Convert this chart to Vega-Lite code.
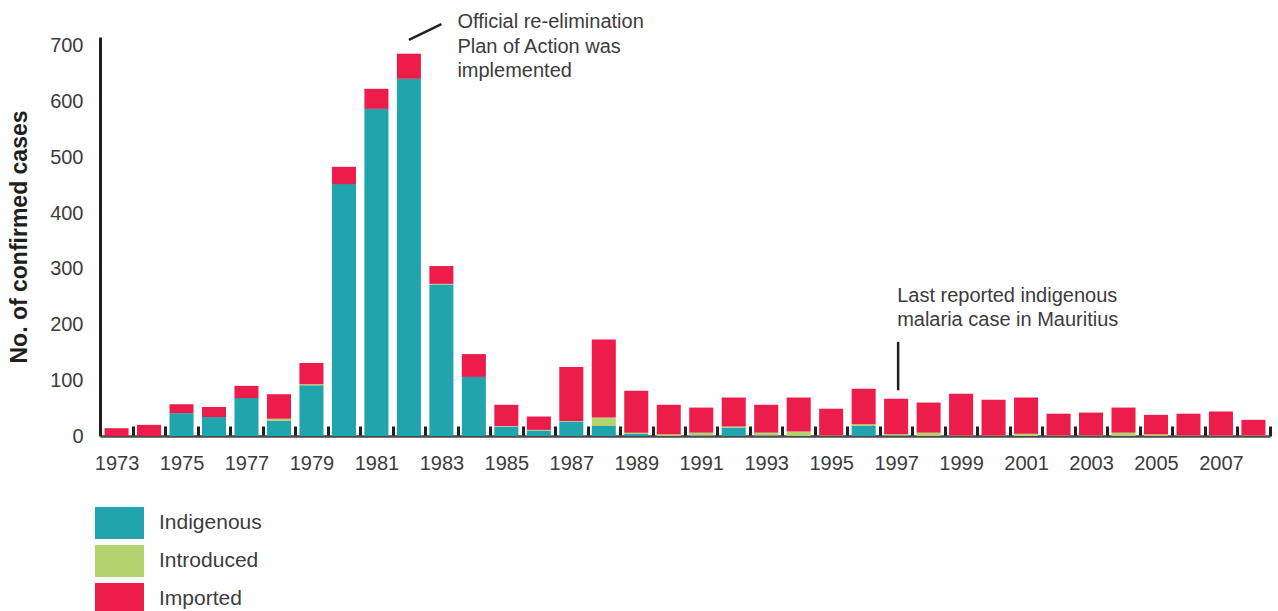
{
  "$schema": "https://vega.github.io/schema/vega-lite/v6.json",
  "width": 1170,
  "height": 399,
  "autosize": {"type": "none"},
  "padding": {"left": 100, "top": 37, "right": 8, "bottom": 175},
  "background": "white",
  "config": {"view": {"stroke": null}, "font": "Liberation Sans"},
  "datasets": {
    "cases": [
      {"year": 1973, "Indigenous": 0, "Introduced": 0, "Imported": 14},
      {"year": 1974, "Indigenous": 0, "Introduced": 0, "Imported": 20},
      {"year": 1975, "Indigenous": 41, "Introduced": 0, "Imported": 16},
      {"year": 1976, "Indigenous": 34, "Introduced": 0, "Imported": 18},
      {"year": 1977, "Indigenous": 68, "Introduced": 0, "Imported": 22},
      {"year": 1978, "Indigenous": 27, "Introduced": 4, "Imported": 44},
      {"year": 1979, "Indigenous": 91, "Introduced": 2, "Imported": 38},
      {"year": 1980, "Indigenous": 452, "Introduced": 0, "Imported": 31},
      {"year": 1981, "Indigenous": 587, "Introduced": 0, "Imported": 36},
      {"year": 1982, "Indigenous": 641, "Introduced": 0, "Imported": 45},
      {"year": 1983, "Indigenous": 272, "Introduced": 1, "Imported": 32},
      {"year": 1984, "Indigenous": 106, "Introduced": 0, "Imported": 41},
      {"year": 1985, "Indigenous": 17, "Introduced": 1, "Imported": 38},
      {"year": 1986, "Indigenous": 10, "Introduced": 1, "Imported": 24},
      {"year": 1987, "Indigenous": 26, "Introduced": 1, "Imported": 97},
      {"year": 1988, "Indigenous": 18, "Introduced": 15, "Imported": 140},
      {"year": 1989, "Indigenous": 4, "Introduced": 2, "Imported": 75},
      {"year": 1990, "Indigenous": 0, "Introduced": 3, "Imported": 53},
      {"year": 1991, "Indigenous": 1, "Introduced": 5, "Imported": 45},
      {"year": 1992, "Indigenous": 15, "Introduced": 2, "Imported": 52},
      {"year": 1993, "Indigenous": 1, "Introduced": 5, "Imported": 50},
      {"year": 1994, "Indigenous": 0, "Introduced": 8, "Imported": 61},
      {"year": 1995, "Indigenous": 0, "Introduced": 1, "Imported": 48},
      {"year": 1996, "Indigenous": 18, "Introduced": 3, "Imported": 64},
      {"year": 1997, "Indigenous": 1, "Introduced": 2, "Imported": 64},
      {"year": 1998, "Indigenous": 0, "Introduced": 6, "Imported": 54},
      {"year": 1999, "Indigenous": 0, "Introduced": 1, "Imported": 75},
      {"year": 2000, "Indigenous": 0, "Introduced": 1, "Imported": 64},
      {"year": 2001, "Indigenous": 0, "Introduced": 4, "Imported": 65},
      {"year": 2002, "Indigenous": 0, "Introduced": 1, "Imported": 39},
      {"year": 2003, "Indigenous": 0, "Introduced": 1, "Imported": 41},
      {"year": 2004, "Indigenous": 0, "Introduced": 6, "Imported": 45},
      {"year": 2005, "Indigenous": 0, "Introduced": 3, "Imported": 35},
      {"year": 2006, "Indigenous": 0, "Introduced": 1, "Imported": 39},
      {"year": 2007, "Indigenous": 0, "Introduced": 1, "Imported": 43},
      {"year": 2008, "Indigenous": 0, "Introduced": 1, "Imported": 28}
    ],
    "notes1": [
      {"year": 1983, "value": 743, "text": "Official re-elimination"},
      {"year": 1983, "value": 698, "text": "Plan of Action was"},
      {"year": 1983, "value": 655, "text": "implemented"}
    ],
    "notes2": [
      {"year": 1997, "value": 251, "text": "Last reported indigenous"},
      {"year": 1997, "value": 208, "text": "malaria case in Mauritius"}
    ],
    "line1": [
      {"year": 1982, "year2": 1983, "value": 711, "value2": 739}
    ],
    "line2": [
      {"year": 1997, "value": 82, "value2": 169}
    ]
  },
  "layer": [
    {
      "data": {"name": "cases"},
      "transform": [
        {"fold": ["Indigenous", "Introduced", "Imported"], "as": ["type", "cases"]},
        {"window": [{"op": "row_number", "as": "stackRank"}], "groupby": ["year"]}
      ],
      "mark": {"type": "bar"},
      "encoding": {
        "x": {
          "field": "year",
          "type": "ordinal",
          "scale": {"paddingInner": 0.26, "paddingOuter": 0.14},
          "axis": {
            "title": null,
            "labelAngle": 0,
            "labelExpr": "(datum.value - 1973) % 2 == 0 ? datum.label : ''",
            "labelOverlap": false,
            "labelFontSize": 20,
            "labelColor": "#3c3c3c",
            "labelPadding": 27,
            "tickSize": -10,
            "tickWidth": 3,
            "tickColor": "#231f20",
            "tickOffset": 16.25,
            "labelOffset": -16.25,
            "domainColor": "#4a4a4a",
            "domainWidth": 2.5,
            "grid": false
          }
        },
        "y": {
          "field": "cases",
          "type": "quantitative",
          "stack": "zero",
          "scale": {"domain": [0, 716], "nice": false},
          "axis": {
            "values": [0, 100, 200, 300, 400, 500, 600, 700],
            "ticks": false,
            "grid": false,
            "domainColor": "#231f20",
            "domainWidth": 3,
            "labelFontSize": 20,
            "labelColor": "#3c3c3c",
            "labelPadding": 17,
            "title": "No. of confirmed cases",
            "titleFontSize": 23,
            "titleFontWeight": "bold",
            "titleColor": "#231f20",
            "titlePadding": 18
          }
        },
        "order": {"field": "stackRank", "type": "quantitative", "sort": "ascending"},
        "color": {
          "field": "type",
          "type": "nominal",
          "sort": ["Indigenous", "Introduced", "Imported"],
          "scale": {
            "domain": ["Indigenous", "Introduced", "Imported"],
            "range": ["#20a4ae", "#b3d36e", "#ec1c4b"]
          },
          "legend": {
            "orient": "none",
            "legendX": -0.5,
            "legendY": 466,
            "direction": "vertical",
            "title": null,
            "padding": 0,
            "symbolType": "M-1.225,-0.8H1.225V0.8H-1.225Z",
            "symbolSize": 1600,
            "symbolStrokeWidth": 0,
            "symbolOpacity": 1,
            "labelFontSize": 21,
            "labelColor": "#3c3c3c",
            "labelOffset": 19.5,
            "rowPadding": 2
          }
        }
      }
    },
    {
      "data": {"name": "line1"},
      "mark": {"type": "rule", "color": "#231f20", "strokeWidth": 2.5},
      "encoding": {
        "x": {"field": "year", "type": "ordinal"},
        "x2": {"field": "year2"},
        "y": {"field": "value", "type": "quantitative"},
        "y2": {"field": "value2"}
      }
    },
    {
      "data": {"name": "line2"},
      "mark": {"type": "rule", "color": "#231f20", "strokeWidth": 2.5, "xOffset": 2},
      "encoding": {
        "x": {"field": "year", "type": "ordinal"},
        "y": {"field": "value", "type": "quantitative"},
        "y2": {"field": "value2"}
      }
    },
    {
      "data": {"name": "notes1"},
      "mark": {"type": "text", "align": "left", "baseline": "middle", "dx": 16, "fontSize": 20, "color": "#3c3c3c"},
      "encoding": {
        "x": {"field": "year", "type": "ordinal"},
        "y": {"field": "value", "type": "quantitative"},
        "text": {"field": "text"}
      }
    },
    {
      "data": {"name": "notes2"},
      "mark": {"type": "text", "align": "left", "baseline": "middle", "dx": 1, "fontSize": 20, "color": "#3c3c3c"},
      "encoding": {
        "x": {"field": "year", "type": "ordinal"},
        "y": {"field": "value", "type": "quantitative"},
        "text": {"field": "text"}
      }
    }
  ]
}
